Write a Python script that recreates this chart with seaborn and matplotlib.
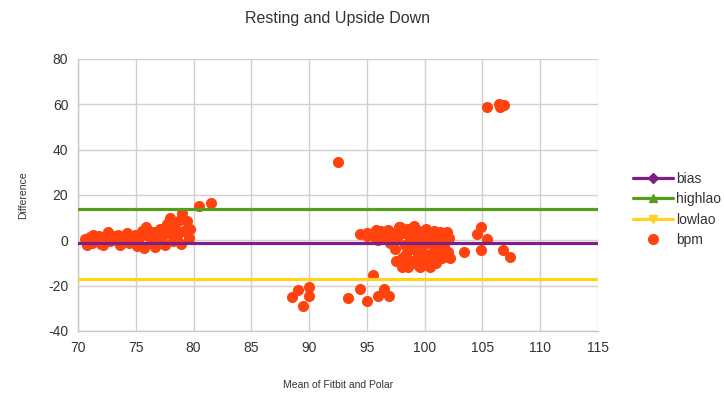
import numpy as np
import pandas as pd
import matplotlib
matplotlib.use("Agg")
import matplotlib.pyplot as plt
from matplotlib.lines import Line2D
import seaborn as sns

# ---- data ----
mean_x = [
    # resting cluster
    70.6, 70.8, 71.0, 71.2, 71.5, 71.8, 72.0, 72.3, 72.6, 72.8, 73.0, 73.3, 73.6, 73.9,
    74.2, 74.4, 74.6, 74.9, 75.1, 75.3, 75.5, 75.7, 75.9, 76.1, 76.3, 76.5, 76.7, 76.9,
    77.1, 77.3, 77.5, 77.7, 77.9, 78.0, 78.2, 78.4, 78.6, 78.8, 79.0, 79.2, 79.4, 79.6,
    79.7, 78.3, 76.0, 74.0, 72.2, 71.3, 73.5, 75.0, 77.0, 78.9, 80.5, 81.5,
    # low cluster
    88.5, 89.0, 89.5, 90.0, 90.0, 92.5, 93.4, 94.4, 95.0, 95.5, 96.0, 96.5, 96.9,
    # main cluster
    94.4, 95.0, 95.8, 95.0, 95.5, 96.2, 96.5, 96.8, 97.0, 97.2, 97.4, 97.6, 97.8, 98.0,
    98.1, 98.2, 98.3, 98.4, 98.5, 98.6, 98.7, 98.8, 98.9, 99.0, 99.1, 99.2, 99.3, 99.4,
    99.5, 99.6, 99.7, 99.8, 99.9, 100.0, 100.1, 100.2, 100.3, 100.4, 100.5, 100.6, 100.7,
    100.8, 100.9, 101.0, 101.1, 101.2, 101.3, 101.4, 101.5, 101.6, 101.7, 101.8, 101.9,
    102.0, 102.2, 102.1, 97.5, 98.0, 97.9, 96.0, 99.5, 100.5,
    # right side
    103.4, 104.5, 104.9, 105.4, 104.9, 106.8, 107.4,
    # high outliers
    105.4, 106.4, 106.9, 106.5,
]
difference = [
    0.5, -2.0, 1.5, -1.0, 0.0, 2.0, -1.5, 1.0, 3.5, -0.5, 2.0, 0.0, -2.0, 1.5,
    3.0, -1.0, 0.5, 2.5, -2.5, 1.0, 4.0, -3.5, 6.0, 2.0, -1.0, 3.5, -3.0, 0.5,
    5.0, 1.5, -2.0, 7.0, 3.0, 10.0, -0.5, 5.5, 2.0, 9.0, 12.0, 4.0, 8.5, 1.0,
    5.0, 8.0, 4.5, 0.0, -2.0, 2.5, 2.5, 0.5, -1.0, -1.5, 15.0, 16.5,
    -25.0, -22.0, -29.0, -20.5, -24.5, 34.5, -25.4, -21.3, -26.8, -15.4, -24.6, -21.3, -24.6,
    2.6, 1.8, 4.7, 3.0, 2.0, 4.0, 1.0, 4.5, -1.0, 3.0, -4.0, 1.0, 6.0, -8.0,
    -11.0, 3.0, -2.0, -6.0, 5.0, -12.0, 0.0, -9.0, 2.5, -4.0, 6.5, -10.0, 1.0, -7.0,
    4.0, -12.0, -2.0, -5.0, 2.0, -9.0, 5.0, -1.0, -11.0, 3.0, -6.0, 0.0, -8.0,
    4.0, -3.0, -10.0, 1.0, -6.0, 3.5, -4.0, -8.0, 0.0, -2.0, -7.0, 3.5,
    -5.0, -8.0, 1.0, -9.0, -12.0, 6.0, 0.0, -11.5, -12.0,
    -5.1, 2.9, 5.9, 0.7, -4.4, -4.4, -7.3,
    58.8, 60.3, 59.6, 58.8,
]
x_range = [70, 115]
bias = -1.4
highlao = 13.8
lowlao = -17.0

colors = {"bias": "#7e1e86", "highlao": "#579d1c", "lowlao": "#ffd320", "bpm": "#ff420e"}

# ---- figure ----
sns.set_style("white")
plt.rcParams["font.family"] = ["Liberation Sans", "DejaVu Sans"]
plt.rcParams["axes.unicode_minus"] = False

fig = plt.figure(figsize=(7.24, 3.93), dpi=100)
ax = fig.add_axes([0.1077, 0.158, 0.7183, 0.692])

pts = pd.DataFrame({"x": mean_x, "y": difference})
sns.scatterplot(data=pts, x="x", y="y", ax=ax, color=colors["bpm"], s=64,
                linewidth=0, zorder=3, legend=False)

for name, val in [("bias", bias), ("highlao", highlao), ("lowlao", lowlao)]:
    ln = pd.DataFrame({"x": x_range, "y": [val, val]})
    sns.lineplot(data=ln, x="x", y="y", ax=ax, color=colors[name], linewidth=2.3,
                 zorder=4, legend=False)

ax.set_xlim(70, 115)
ax.set_ylim(-40, 80)
ax.set_xticks(np.arange(70, 116, 5))
ax.set_yticks(np.arange(-40, 81, 20))
ax.grid(True, color="#d0d0d0", linewidth=1.0)
ax.set_axisbelow(True)
for s in ["top", "right"]:
    ax.spines[s].set_visible(False)
for s in ["left", "bottom"]:
    ax.spines[s].set_color("#c8c8c8")
    ax.spines[s].set_linewidth(1.0)
ax.tick_params(axis="both", which="both", length=4, width=1, color="#c8c8c8",
               labelsize=10, labelcolor="#333333", pad=3, direction="out")

ax.set_title("Resting and Upside Down", fontsize=11.5, color="#333333", pad=26)
ax.set_xlabel("Mean of Fitbit and Polar", fontsize=7.5, color="#333333", labelpad=18)
ax.set_ylabel("Difference", fontsize=7.5, color="#333333", labelpad=14)

handles = [
    Line2D([0], [0], color=colors["bias"], lw=2.3, marker="D", markersize=5),
    Line2D([0], [0], color=colors["highlao"], lw=2.3, marker="^", markersize=6),
    Line2D([0], [0], color=colors["lowlao"], lw=2.3, marker="v", markersize=6),
    Line2D([0], [0], color=colors["bpm"], lw=0, marker="o", markersize=7),
]
leg = fig.legend(handles, ["bias", "highlao", "lowlao", "bpm"], loc="center left",
                 bbox_to_anchor=(0.866, 0.467), frameon=False, fontsize=10,
                 handlelength=2.9, handletextpad=0.25, labelspacing=0.45,
                 borderaxespad=0)
for t in leg.get_texts():
    t.set_color("#333333")

fig.savefig("out.png", dpi=100)
